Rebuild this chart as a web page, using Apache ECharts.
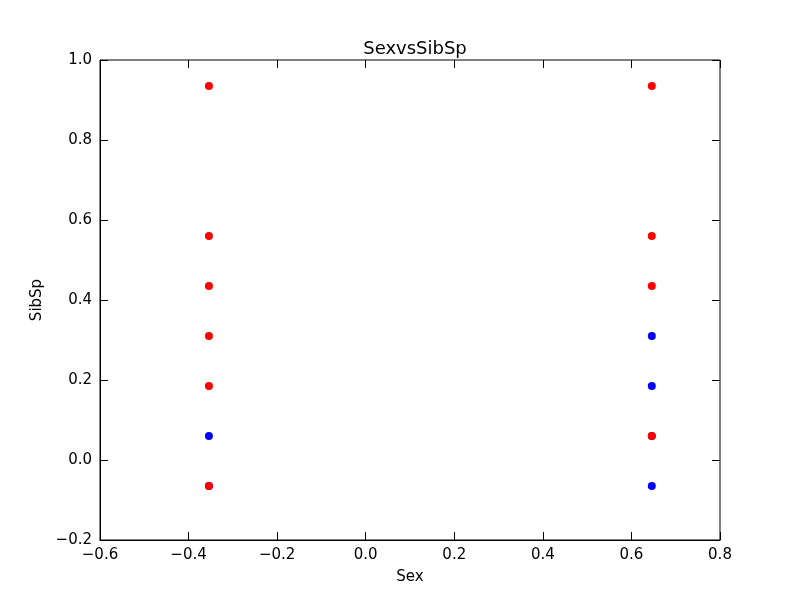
<!DOCTYPE html>
<html><head><meta charset="utf-8">
<script src="https://cdn.jsdelivr.net/npm/echarts@6/dist/echarts.min.js"></script>
<style>html,body{margin:0;padding:0;background:#fff}#c{width:800px;height:600px}</style>
</head><body><div id="c"></div>
<script>
const xPos = [-0.354, 0.646];
const blueUnder = [[-0.354, -0.065], [0.646, 0.06]];
const redPts = [
  [-0.354, 0.935], [-0.354, 0.56], [-0.354, 0.435], [-0.354, 0.31], [-0.354, 0.185], [-0.354, -0.065],
  [0.646, 0.935], [0.646, 0.56], [0.646, 0.435], [0.646, 0.06]
];
const blueTop = [[-0.354, 0.06], [0.646, 0.31], [0.646, 0.185], [0.646, -0.065]];
const font = 'DejaVu Sans';
const chart = echarts.init(document.getElementById('c'));
const axisCommon = {
  axisLine: {onZero: false, lineStyle: {color: '#000', width: 1}},
  axisTick: {inside: true, length: 8, lineStyle: {color: '#000'}},
  splitLine: {show: false},
  axisLabel: {color: '#000', fontSize: 15, fontFamily: font, formatter: v => (Math.abs(v) < 1e-9 ? '0.0' : v.toFixed(1)).replace('-', '\u2212')},
  nameTextStyle: {color: '#000', fontSize: 15, fontFamily: font}
};
const sec = {axisLine: {show: false, onZero: false}, axisTick: {inside: true, length: 8, lineStyle: {color: '#000'}}, axisLabel: {show: false}, splitLine: {show: false}};
const mk = (data, color, z) => ({type: 'scatter', data, symbolSize: 8, z, itemStyle: {color, opacity: 1}, silent: true});
chart.setOption({
  animation: false,
  title: {text: 'SexvsSibSp', left: 410, top: 35, textAlign: 'center', textStyle: {fontFamily: font, fontSize: 18, fontWeight: 'normal', color: '#000'}},
  grid: {left: 100, right: 80, top: 60, bottom: 60, show: true, borderColor: '#000', borderWidth: 1},
  xAxis: [Object.assign({type: 'value', min: -0.6, max: 0.8, interval: 0.2, name: 'Sex', nameLocation: 'middle', nameGap: 30, position: 'bottom'}, axisCommon, {axisLabel: Object.assign({}, axisCommon.axisLabel, {margin: 8})}),
          Object.assign({type: 'value', min: -0.6, max: 0.8, interval: 0.2, position: 'top'}, sec)],
  yAxis: [Object.assign({type: 'value', min: -0.2, max: 1.0, interval: 0.2, name: 'SibSp', nameLocation: 'middle', nameGap: 55, position: 'left'}, axisCommon),
          Object.assign({type: 'value', min: -0.2, max: 1.0, interval: 0.2, position: 'right'}, sec)],
  series: [mk(blueUnder, '#0000ff', 2), mk(redPts, '#ff0000', 3), mk(blueTop, '#0000ff', 4)]
});
</script></body></html>
